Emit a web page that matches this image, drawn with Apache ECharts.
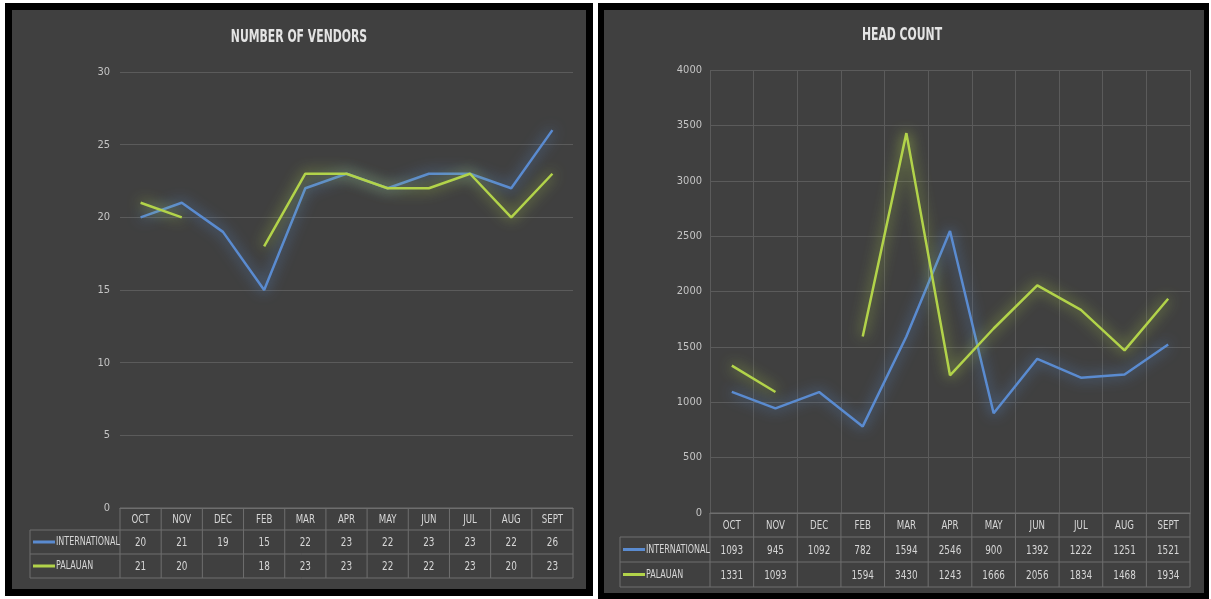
<!DOCTYPE html>
<html><head><meta charset="utf-8">
<script src="https://cdn.jsdelivr.net/npm/echarts@6/dist/echarts.min.js"></script>
<style>
html,body{margin:0;padding:0;background:#fff;}
#wrap{position:relative;width:1211px;height:599px;overflow:hidden;}
.p{position:absolute;}
#c{position:absolute;left:0;top:0;width:1211px;height:599px;}
</style>
</head><body>
<div id="wrap">
  <div class="p" style="left:5px;top:3px;width:588px;height:593px;background:#000;"></div>
  <div class="p" style="left:12px;top:10px;width:574px;height:579px;background:#404040;"></div>
  <div class="p" style="left:598px;top:3px;width:611px;height:596px;background:#000;"></div>
  <div class="p" style="left:604px;top:10px;width:600px;height:583px;background:#404040;"></div>
  <div id="c"></div>
</div>
<script>
const months = ['OCT','NOV','DEC','FEB','MAR','APR','MAY','JUN','JUL','AUG','SEPT'];
const vendorsIntl = [20,21,19,15,22,23,22,23,23,22,26];
const vendorsPal  = [21,20,null,18,23,23,22,22,23,20,23];
const headIntl = [1093,945,1092,782,1594,2546,900,1392,1222,1251,1521];
const headPal  = [1331,1093,null,1594,3430,1243,1666,2056,1834,1468,1934];
const seriesNames = ['INTERNATIONAL','PALAUAN'];
const titles = ['NUMBER OF VENDORS','HEAD COUNT'];

const BLUE = '#5a8bd0', GREEN = '#b2d34a';
const FONT = "'Liberation Sans Narrow','DejaVu Sans Condensed','Liberation Sans',sans-serif";
const GRIDC = '#5b5b5b', TABLEC = '#6e6e6e', LBL = '#c4c4c4', TXT = '#d6d6d6';

const chart = echarts.init(document.getElementById('c'), null, {renderer:'canvas'});

function lineSeries(name, data, color, idx){
  return {
    name, type:'line', data, xAxisIndex:idx, yAxisIndex:idx,
    symbol:'none', connectNulls:false, smooth:false,
    lineStyle:{color, width:2.5, shadowBlur:14, shadowColor:color},
    itemStyle:{color}, z:5
  };
}
function xAx(idx, split){
  return {
    type:'category', gridIndex:idx, data:months, boundaryGap:true,
    axisLine:{show:true, lineStyle:{color:TABLEC, width:1}},
    axisTick:{show:false},
    axisLabel:{show:false},
    splitLine:{show:split, interval:0, lineStyle:{color:GRIDC, width:1}}
  };
}
function yAx(idx, max, interval, margin){
  return {
    type:'value', gridIndex:idx, min:0, max, interval,
    axisLine:{show:false}, axisTick:{show:false},
    axisLabel:{color:LBL, fontFamily:FONT, fontSize:11, margin, formatter:v=>String(v)},
    splitLine:{show:true, lineStyle:{color:GRIDC, width:1}}
  };
}

const option = {
  backgroundColor:'transparent',
  animation:false,
  grid:[
    {left:120, right:1211-573, top:72, bottom:599-508},
    {left:710, right:1211-1190, top:70, bottom:599-513}
  ],
  xAxis:[xAx(0,false), xAx(1,true)],
  yAxis:[yAx(0,30,5,10), yAx(1,4000,500,8)],
  series:[
    lineSeries(seriesNames[0], vendorsIntl, BLUE, 0),
    lineSeries(seriesNames[1], vendorsPal, GREEN, 0),
    lineSeries(seriesNames[0], headIntl, BLUE, 1),
    lineSeries(seriesNames[1], headPal, GREEN, 1)
  ]
};
chart.setOption(option);

const gfx = [];
function line(x1,y1,x2,y2,color,w){
  gfx.push({type:'line', z:50, silent:true, shape:{x1,y1,x2,y2}, style:{stroke:color||TABLEC, lineWidth:w||1}});
}
function text(x,y,str,sx,opts){
  gfx.push({type:'text', z:60, silent:true, x, y, scaleX:sx||0.82,
    style:Object.assign({text:String(str), fill:TXT, font:'12px '+FONT, textAlign:'center', textVerticalAlign:'middle'}, opts||{})});
}
function buildPanel(gi, intl, pal, labelLeft, rowH, titleX, titleY){
  const xs = months.map((m,i)=>chart.convertToPixel({xAxisIndex:gi}, i));
  const w = xs[1]-xs[0];
  const left = xs[0]-w/2, right = xs[xs.length-1]+w/2;
  const y0 = chart.convertToPixel({yAxisIndex:gi}, 0);
  const r1 = y0 + rowH[0], r2 = r1 + rowH[1], r3 = r2 + rowH[2];
  line(left, y0, right, y0);
  [r1,r2,r3].forEach(y=>line(labelLeft, y, right, y));
  for(let k=0;k<=months.length;k++){ const x = left + k*w; line(x, y0, x, r3); }
  line(labelLeft, r1, labelLeft, r3);
  months.forEach((m,i)=>text(xs[i], (y0+r1)/2+1, m, 0.8));
  const rowsData = [intl, pal];
  const colors = [BLUE, GREEN];
  const mids = [(r1+r2)/2, (r2+r3)/2];
  rowsData.forEach((arr, ri)=>{
    const ym = mids[ri];
    line(labelLeft+3, ym, labelLeft+25, ym, colors[ri], 3);
    text(labelLeft+26, ym, seriesNames[ri], 0.74, {textAlign:'left'});
    arr.forEach((v,i)=>{ if(v!==null) text(xs[i], ym+1, v, 0.82); });
  });
  text(titleX, titleY, titles[gi], 0.71, {fill:'#e4e4e4', font:'bold 17px '+FONT});
}
buildPanel(0, vendorsIntl, vendorsPal, 30, [22,24,24], 299, 38);
buildPanel(1, headIntl, headPal, 620, [24,25,25], 902, 36);
chart.setOption({graphic:{elements:gfx}});
</script>
</body></html>
